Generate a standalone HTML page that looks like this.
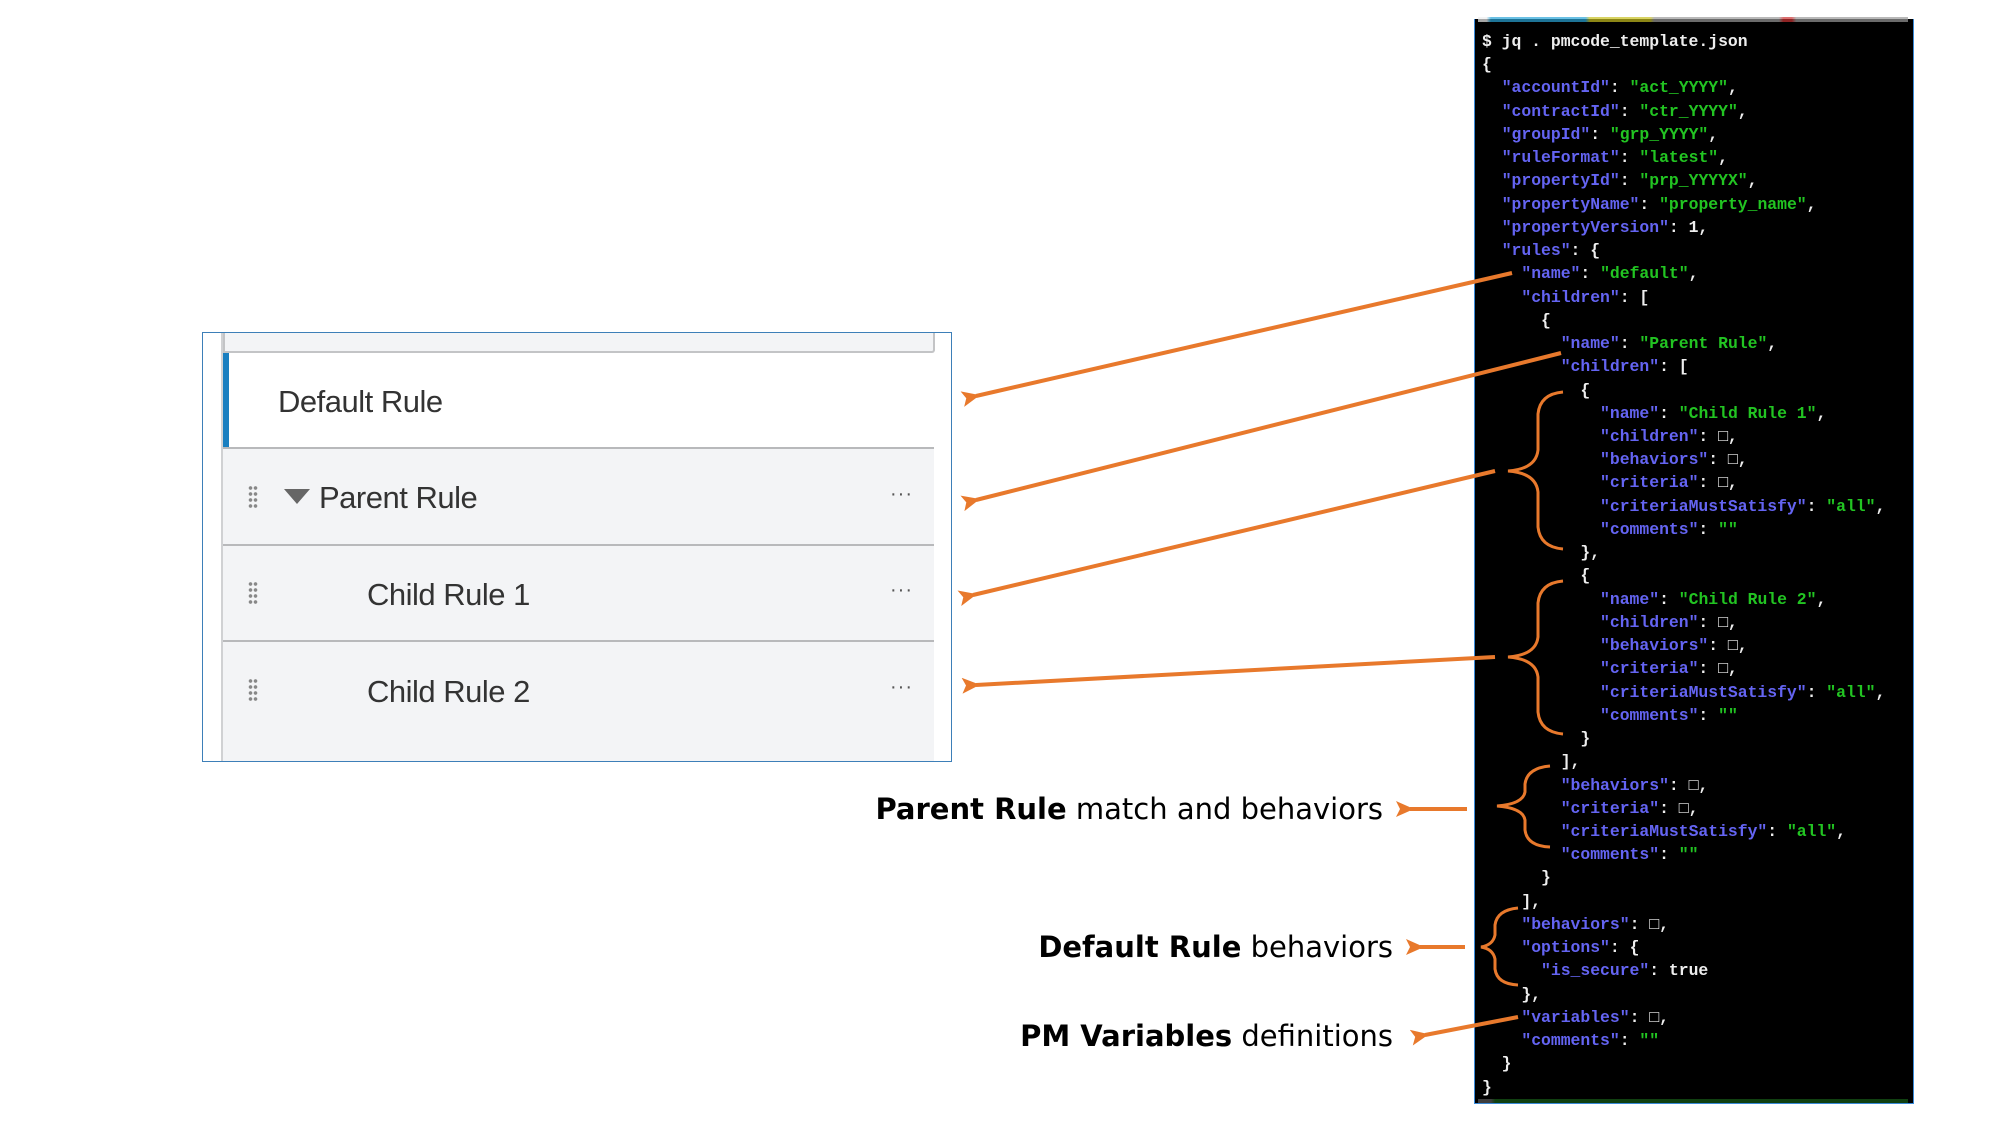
<!DOCTYPE html>
<html><head><meta charset="utf-8"><style>
html,body{margin:0;padding:0;background:#fff;width:2000px;height:1125px;overflow:hidden;position:relative;font-family:"Liberation Sans",sans-serif}
.abs{position:absolute}
#panel{left:202px;top:332px;width:750px;height:430px;border:1.5px solid #3d7fb8;box-sizing:border-box;background:#fff}
.row{position:absolute;left:20px;width:711px;background:#f3f4f6;border-bottom:2px solid #b8b9bb;box-sizing:border-box}
.rt{position:absolute;font-size:31px;color:#333;top:52%;transform:translateY(-50%);white-space:nowrap;letter-spacing:-0.5px}
.dots{position:absolute;left:25px;top:50%;transform:translateY(-50%);width:10px;height:24px;background:radial-gradient(circle,#888 1.6px,transparent 2px) 0 0/5px 6px}
.more{position:absolute;left:667px;top:50%;transform:translateY(-60%);font-size:20px;color:#555;letter-spacing:1px}
#term{left:1474px;top:19px;width:440px;height:1085px;background:#000;border:1.5px solid #3a8ad8;border-top:none;box-sizing:border-box}
pre{position:absolute;left:1482px;top:30px;margin:0;font-family:"Liberation Mono",monospace;font-weight:bold;font-size:16.4px;line-height:23.24px;color:#eee}
.k{color:#6464f2}.s{color:#22c422}
.lab{position:absolute;font-family:"DejaVu Sans",sans-serif;font-size:29px;color:#000;white-space:nowrap;text-align:right;transform:translateY(-50%)}
</style></head><body>
<div id="term" class="abs"></div>
<div class="abs" style="left:1478px;top:17px;width:430px;height:5px;background:linear-gradient(90deg,#eee 0 2%,#2aa5d8 3% 25%,#c8c020 26% 40%,#999 41% 70%,#c33 71% 73%,#999 74% 100%);opacity:.7"></div>
<div class="abs" style="left:1478px;top:1099px;width:430px;height:4px;background:linear-gradient(90deg,#666 0 3%,#1a6a1a 4% 100%);opacity:.6"></div>
<pre>$ jq . pmcode_template.json
{
  <span class="k">"accountId"</span>: <span class="s">"act_YYYY"</span>,
  <span class="k">"contractId"</span>: <span class="s">"ctr_YYYY"</span>,
  <span class="k">"groupId"</span>: <span class="s">"grp_YYYY"</span>,
  <span class="k">"ruleFormat"</span>: <span class="s">"latest"</span>,
  <span class="k">"propertyId"</span>: <span class="s">"prp_YYYYX"</span>,
  <span class="k">"propertyName"</span>: <span class="s">"property_name"</span>,
  <span class="k">"propertyVersion"</span>: 1,
  <span class="k">"rules"</span>: {
    <span class="k">"name"</span>: <span class="s">"default"</span>,
    <span class="k">"children"</span>: [
      {
        <span class="k">"name"</span>: <span class="s">"Parent Rule"</span>,
        <span class="k">"children"</span>: [
          {
            <span class="k">"name"</span>: <span class="s">"Child Rule 1"</span>,
            <span class="k">"children"</span>: □,
            <span class="k">"behaviors"</span>: □,
            <span class="k">"criteria"</span>: □,
            <span class="k">"criteriaMustSatisfy"</span>: <span class="s">"all"</span>,
            <span class="k">"comments"</span>: <span class="s">""</span>
          },
          {
            <span class="k">"name"</span>: <span class="s">"Child Rule 2"</span>,
            <span class="k">"children"</span>: □,
            <span class="k">"behaviors"</span>: □,
            <span class="k">"criteria"</span>: □,
            <span class="k">"criteriaMustSatisfy"</span>: <span class="s">"all"</span>,
            <span class="k">"comments"</span>: <span class="s">""</span>
          }
        ],
        <span class="k">"behaviors"</span>: □,
        <span class="k">"criteria"</span>: □,
        <span class="k">"criteriaMustSatisfy"</span>: <span class="s">"all"</span>,
        <span class="k">"comments"</span>: <span class="s">""</span>
      }
    ],
    <span class="k">"behaviors"</span>: □,
    <span class="k">"options"</span>: {
      <span class="k">"is_secure"</span>: true
    },
    <span class="k">"variables"</span>: □,
    <span class="k">"comments"</span>: <span class="s">""</span>
  }
}</pre>

<div id="panel" class="abs">
  <div class="abs" style="left:18px;top:0;width:3px;height:428px;background:#d0d1d3"></div>
  <div class="row" style="top:0;height:20px;border:2px solid #c3c4c6;border-top:none;border-radius:0 0 3px 0;width:712px"></div>
  <div class="row" style="top:20px;height:96px;background:#fff">
    <div class="abs" style="left:0;top:0;width:6px;height:94px;background:#1a7fc0"></div>
    <div class="rt" style="left:55px">Default Rule</div>
  </div>
  <div class="row" style="top:116px;height:97px">
    <div class="dots"></div>
    <div class="abs" style="left:61px;top:40px;width:0;height:0;border-left:13px solid transparent;border-right:13px solid transparent;border-top:15px solid #666"></div>
    <div class="rt" style="left:96px">Parent Rule</div>
    <div class="more">···</div>
  </div>
  <div class="row" style="top:213px;height:96px">
    <div class="dots"></div>
    <div class="rt" style="left:144px">Child Rule 1</div>
    <div class="more">···</div>
  </div>
  <div class="row" style="top:309px;height:119px;border-bottom:none">
    <div class="dots" style="top:48px"></div>
    <div class="rt" style="left:144px;top:50px">Child Rule 2</div>
    <div class="more" style="top:48px">···</div>
  </div>
</div>

<svg class="abs" style="left:0;top:0" width="2000" height="1125">
<defs><marker id="a" markerWidth="4.5" markerHeight="4" refX="1" refY="2" orient="auto" markerUnits="strokeWidth"><path d="M0,2 L4.5,0 L3.5,2 L4.5,4 Z" fill="#e8792c"/></marker></defs>
<g stroke="#e8792c" stroke-width="4" fill="none" marker-end="url(#a)">
<line x1="1512" y1="273" x2="976" y2="396"/>
<line x1="1561" y1="353" x2="976" y2="500"/>
<line x1="1495" y1="471" x2="973" y2="595"/>
<line x1="1495" y1="657" x2="976" y2="685"/>
<line x1="1467" y1="809" x2="1410" y2="809"/>
<line x1="1465" y1="947" x2="1420" y2="947"/>
<line x1="1518" y1="1017" x2="1425" y2="1035"/>
</g>
<g stroke="#e8792c" stroke-width="3" fill="none">
<path d="M1563,392 Q1540,394 1538,414 L1538,450 Q1536,469 1508,471 Q1536,473 1538,492 L1538,527 Q1540,547 1563,549"/>
<path d="M1563,581 Q1540,583 1538,603 L1538,637 Q1536,655 1508,657 Q1536,659 1538,677 L1538,712 Q1540,732 1563,734"/>
<path d="M1550,766 Q1527,768 1525,784 L1525,792 Q1523,804 1497,806 Q1523,808 1525,820 L1525,830 Q1527,846 1550,847"/>
<path d="M1518,908 Q1497,910 1495,925 L1495,935 Q1493,945 1481,947 Q1493,949 1495,959 L1495,969 Q1497,984 1518,985"/>
</g>
</svg>

<div class="lab" style="right:617px;top:809px"><b>Parent Rule</b> match and behaviors</div>
<div class="lab" style="right:607px;top:947px"><b>Default Rule</b> behaviors</div>
<div class="lab" style="right:607px;top:1036px"><b>PM Variables</b> definitions</div>
</body></html>
